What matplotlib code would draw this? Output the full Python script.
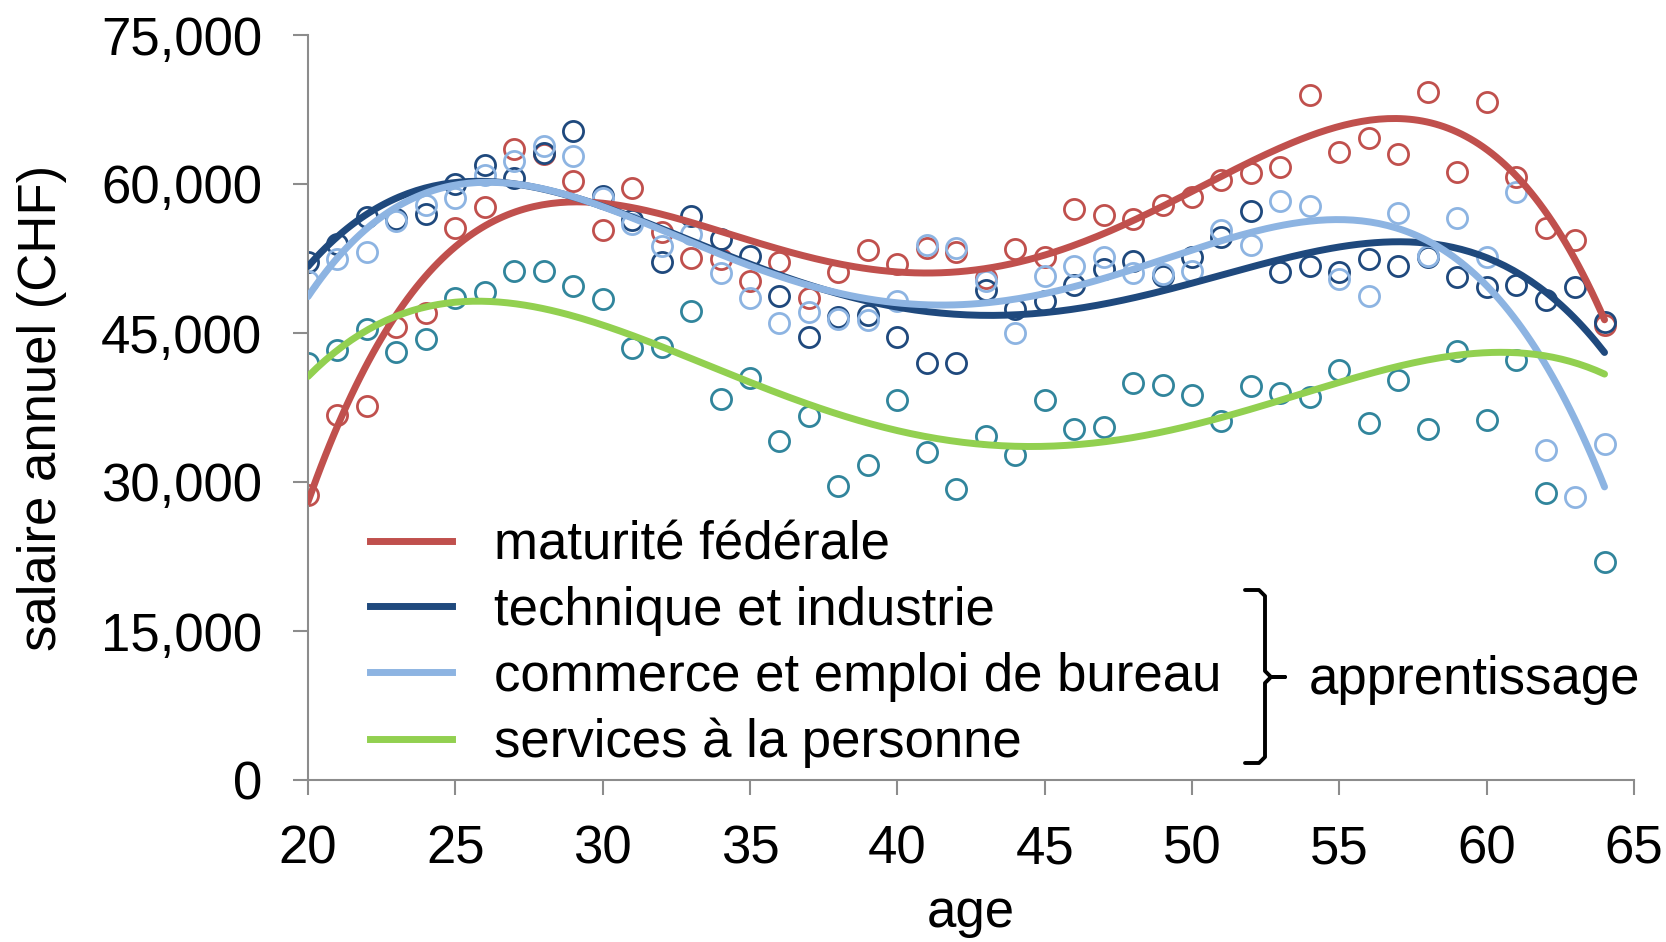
import numpy as np
import matplotlib.pyplot as plt
from matplotlib.lines import Line2D

plt.rcParams['font.family'] = ['Liberation Sans', 'DejaVu Sans']

# ages on the x axis
ages = np.arange(20, 65)

# annual salary (CHF) per age
maturite = [28700, 36700, 37700, 45600, 47000, 55600, 57700, 63500, 63000, 60300,
            55400, 59600, 55200, 52600, 52500, 50200, 52100, 48500, 51100, 53400,
            51900, 53600, 53200, 50500, 53500, 52700, 57500, 56900, 56500, 57900,
            58700, 60400, 61100, 61700, 69000, 63200, 64600, 63000, 69300, 61200,
            68300, 60700, 55600, 54400, 45800]
technique = [52100, 54000, 56700, 56500, 57000, 60000, 61900, 60600, 63100, 65300,
             58800, 56400, 52100, 56800, 54500, 52800, 48700, 44600, 46600, 46800,
             44600, 42000, 42000, 49300, 47400, 48200, 49800, 51400, 52200, 50700,
             52700, 54700, 57300, 51100, 51700, 51100, 52500, 51700, 52700, 50600,
             49600, 49800, 48300, 49600, 46100]
commerce = [50200, 52400, 53200, 56300, 57900, 58600, 60900, 62300, 63800, 62800,
            58600, 56000, 53800, 55000, 51000, 48500, 46000, 47100, 46400, 46300,
            48200, 53900, 53600, 50200, 45000, 50700, 51700, 52700, 51000, 50900,
            51200, 55400, 53900, 58300, 57800, 50400, 48700, 57100, 52800, 56600,
            52700, 59200, 33200, 28500, 33800]
services = [41950, 43300, 45400, 43100, 44400, 48500, 49100, 51200, 51200, 49700,
            48400, 43500, 43600, 47200, 38400, 40500, 34100, 36600, 29600, 31700,
            38300, 33000, 29300, 34600, 32700, 38300, 35300, 35500, 40000, 39800,
            38800, 36100, 39700, 39000, 38600, 41300, 35900, 40300, 35300, 43200,
            36200, 42300, 28900, np.nan, 21900]

# the green trend line in the chart does not follow the plotted points,
# so its values are read straight off the picture
services_trend = [41000, 43000, 45000, 46500, 47500, 48100, 48300, 48200, 47700, 47000,
                  46000, 44800, 43500, 42300, 41200, 40200, 38800, 37500, 36500, 35700,
                  35000, 34500, 34100, 33800, 33700, 33700, 33800, 34200, 34700, 35300,
                  35900, 36500, 37300, 38200, 39000, 39900, 40800, 41600, 42200, 42700,
                  43000, 43000, 42700, 42000, 41000]

labels = ['maturité fédérale', 'technique et industrie',
          'commerce et emploi de bureau', 'services à la personne']
series = [maturite, technique, commerce, services]
trend_src = [maturite, technique, commerce, services_trend]
point_colors = ['#C0504D', '#1F497D', '#8DB4E2', '#31859C']
line_colors = ['#C0504D', '#1F497D', '#8DB4E2', '#92D050']

W, H = 1666, 942
fig = plt.figure(figsize=(W / 100, H / 100), dpi=100)
ax = fig.add_axes([308 / W, 1 - 780 / H, 1326 / W, 745 / H])

FS = 38

# scatter points
for vals, c in zip(series, point_colors):
    ax.plot(ages, vals, 'o', ms=14.5, mfc='none', mec=c, mew=2.0, zorder=2)

# polynomial trend lines (order 4, like the spreadsheet trendline)
xs = np.linspace(20, 64, 300)
handles = []
for vals, c in zip(trend_src, line_colors):
    y = np.asarray(vals, dtype=float)
    ok = ~np.isnan(y)
    coef = np.polyfit(ages[ok], y[ok], 4)
    ax.plot(xs, np.polyval(coef, xs), color=c, lw=5, solid_capstyle='round', zorder=3)
    handles.append(Line2D([], [], color=c, lw=5))

ax.set_xlim(20, 65)
ax.set_ylim(0, 75000)
ax.set_xticks(range(20, 66, 5))
ax.set_yticks(range(0, 75001, 15000))
ax.yaxis.set_major_formatter(plt.FuncFormatter(lambda v, p: f'{v:,.0f}'))

for s in ['top', 'right']:
    ax.spines[s].set_visible(False)
for s in ['left', 'bottom']:
    ax.spines[s].set_color('#8C8C8C')
    ax.spines[s].set_linewidth(1.5)
ax.tick_params(axis='both', colors='#8C8C8C', labelcolor='black', labelsize=FS,
               length=11, width=1.5, direction='out')
ax.tick_params(axis='y', pad=22)
ax.tick_params(axis='x', pad=21)

ax.set_ylabel('salaire annuel (CHF)', fontsize=FS)
ax.yaxis.set_label_coords(-0.182, 0.5)
ax.set_xlabel('age', fontsize=FS, labelpad=10)

leg = fig.legend(handles, labels, loc='upper left',
                 bbox_to_anchor=(370 / W, 1 - 520 / H), frameon=False,
                 fontsize=FS, handlelength=1.55, handletextpad=0.8,
                 labelspacing=0.3, borderpad=0, borderaxespad=0)

# bracket grouping the three apprenticeship series
bx = [1245, 1259, 1265, 1265, 1271, 1285, 1271, 1265, 1265, 1259, 1245]
by = [590, 590, 596, 671, 677, 677, 677, 683, 757, 763, 763]
fig.add_artist(Line2D([x / W for x in bx], [1 - y / H for y in by],
                      transform=fig.transFigure, color='black', lw=2.8,
                      solid_joinstyle='round', solid_capstyle='round'))
fig.text(1309 / W, 1 - 680 / H, 'apprentissage', fontsize=FS,
         ha='left', va='center')

fig.savefig('out.png', dpi=100)
